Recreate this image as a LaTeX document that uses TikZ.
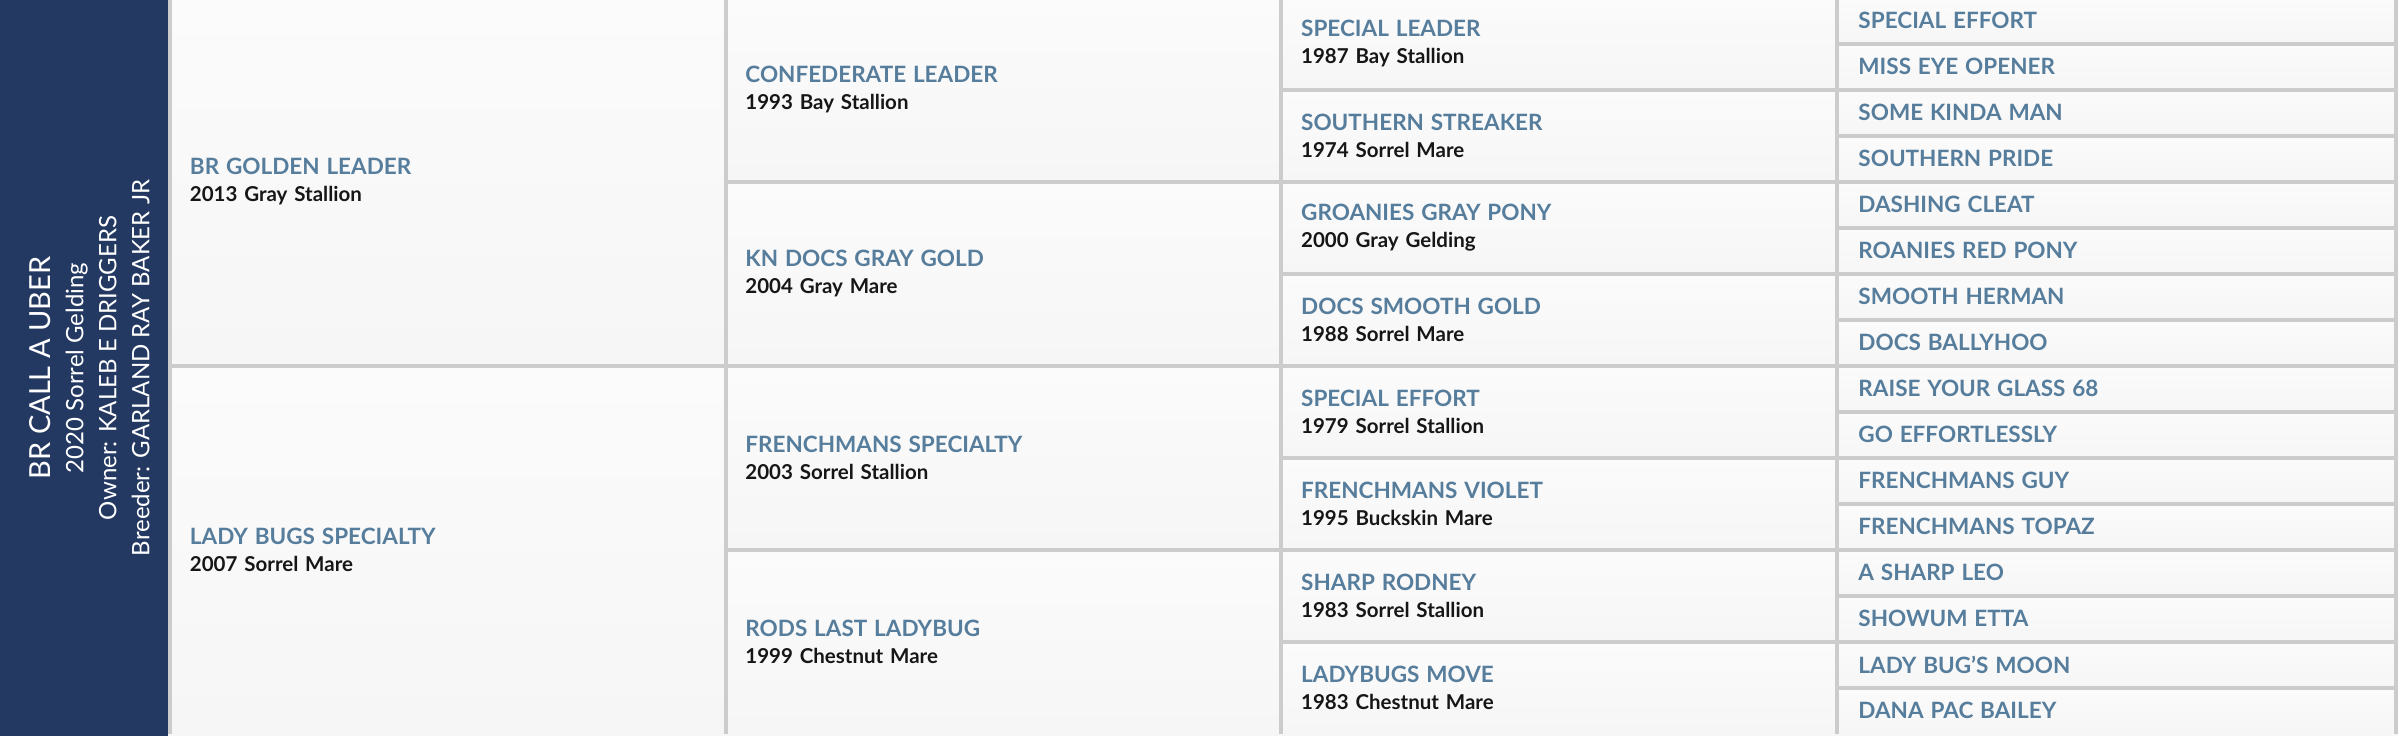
\documentclass[tikz,border=0pt]{standalone}
\usepackage{fontspec}
\setmainfont{Lato}
\usepackage{xcolor}

\definecolor{horsenavy}{RGB}{36,57,98}
\definecolor{titleblue}{RGB}{86,125,156}
\definecolor{subblack}{RGB}{22,22,22}
\definecolor{gridgray}{RGB}{204,204,204}
\definecolor{cellTop}{RGB}{251,251,251}
\definecolor{cellBot}{RGB}{246,246,246}

\newcommand\pedname[1]{{\fontsize{22.5}{27}\selectfont\color{titleblue}#1}}

\tikzset{
  pedcell/.style={anchor=north west, inner xsep=19pt, inner ysep=0pt,
    text width=516pt, minimum width=#1, align=left,
    top color=cellTop, bottom color=cellBot, text=subblack,
    font=\bfseries\fontsize{20.5}{27}\selectfont},
  gridline/.style={draw=gridgray, line width=4pt},
}

\begin{document}
\begin{tikzpicture}[x=1pt, y=-1pt]
  \useasboundingbox (0,0) rectangle (2398,736);
  \clip (0,0) rectangle (2398,736);
  \fill[cellBot] (168,0) rectangle (2398,736);
  \node[fill=horsenavy, anchor=north west, minimum width=168pt, minimum height=736pt, inner sep=0pt] (panel) at (0,0) {};
  \node[rotate=90, text=white, align=center, inner sep=0pt,
      font=\fontsize{24}{33}\selectfont] (horse) at (89.5,368)
    {{\fontsize{29}{33}\selectfont BR CALL A UBER}\\ 2020 Sorrel Gelding\\ Owner: KALEB E DRIGGERS\\ Breeder: GARLAND RAY BAKER JR};

  \foreach \r/\nm/\sub in {
      0/BR GOLDEN LEADER/2013 Gray Stallion,
      8/LADY BUGS SPECIALTY/2007 Sorrel Mare}{
    \node[pedcell=555.5pt, minimum height=368pt] (c1r\r) at (170,{46*\r-2.5}) {\pedname{\nm}\\ \sub};
    \draw[gridline] (c1r\r.south west) -- (c1r\r.north west) -- (c1r\r.north east);
  }
  \foreach \r/\nm/\sub in {
      0/CONFEDERATE LEADER/1993 Bay Stallion,
      4/KN DOCS GRAY GOLD/2004 Gray Mare,
      8/FRENCHMANS SPECIALTY/2003 Sorrel Stallion,
      12/RODS LAST LADYBUG/1999 Chestnut Mare}{
    \node[pedcell=555.5pt, minimum height=184pt] (c2r\r) at (725.5,{46*\r-2.5}) {\pedname{\nm}\\ \sub};
    \draw[gridline] (c2r\r.south west) -- (c2r\r.north west) -- (c2r\r.north east);
  }
  \foreach \r/\nm/\sub in {
      0/SPECIAL LEADER/1987 Bay Stallion,
      2/SOUTHERN STREAKER/1974 Sorrel Mare,
      4/GROANIES GRAY PONY/2000 Gray Gelding,
      6/DOCS SMOOTH GOLD/1988 Sorrel Mare,
      8/SPECIAL EFFORT/1979 Sorrel Stallion,
      10/FRENCHMANS VIOLET/1995 Buckskin Mare,
      12/SHARP RODNEY/1983 Sorrel Stallion,
      14/LADYBUGS MOVE/1983 Chestnut Mare}{
    \node[pedcell=556pt, minimum height=92pt] (c3r\r) at (1281,{46*\r-2.5}) {\pedname{\nm}\\ \sub};
    \draw[gridline] (c3r\r.south west) -- (c3r\r.north west) -- (c3r\r.north east);
  }
  \foreach \r/\nm in {
      0/SPECIAL EFFORT, 1/MISS EYE OPENER, 2/SOME KINDA MAN, 3/SOUTHERN PRIDE,
      4/DASHING CLEAT, 5/ROANIES RED PONY, 6/SMOOTH HERMAN, 7/DOCS BALLYHOO,
      8/RAISE YOUR GLASS 68, 9/GO EFFORTLESSLY, 10/FRENCHMANS GUY, 11/FRENCHMANS TOPAZ,
      12/A SHARP LEO, 13/SHOWUM ETTA, 14/LADY BUG'S MOON, 15/DANA PAC BAILEY}{
    \node[pedcell=558.5pt, minimum height=46pt] (c4r\r) at (1837,{46*\r-2.5}) {\pedname{\nm}};
    \draw[gridline] (c4r\r.south west) -- (c4r\r.north west) -- (c4r\r.north east) -- (c4r\r.south east);
  }
\end{tikzpicture}
\end{document}
